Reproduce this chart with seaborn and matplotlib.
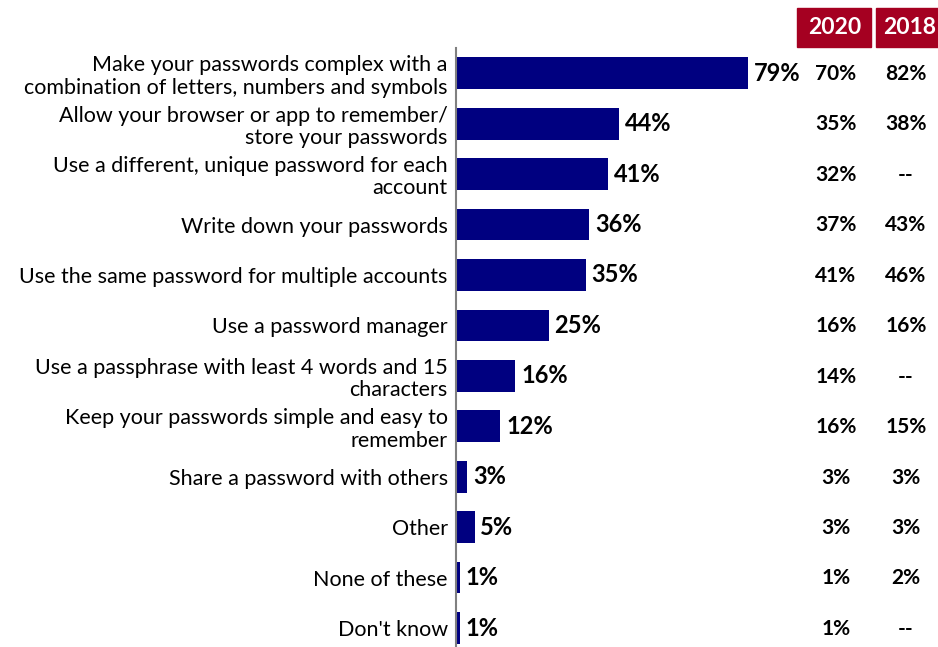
import matplotlib
matplotlib.use("Agg")
import matplotlib.pyplot as plt
import seaborn as sns
import pandas as pd
from matplotlib.patches import Rectangle

categories = [
    "Make your passwords complex with a\ncombination of letters, numbers and symbols",
    "Allow your browser or app to remember/\nstore your passwords",
    "Use a different, unique password for each\naccount",
    "Write down your passwords",
    "Use the same password for multiple accounts",
    "Use a password manager",
    "Use a passphrase with least 4 words and 15\ncharacters",
    "Keep your passwords simple and easy to\nremember",
    "Share a password with others",
    "Other",
    "None of these",
    "Don't know",
]
values_current = [79, 44, 41, 36, 35, 25, 16, 12, 3, 5, 1, 1]
values_2020 = ["70%", "35%", "32%", "37%", "41%", "16%", "14%", "16%", "3%", "3%", "1%", "1%"]
values_2018 = ["82%", "38%", "--", "43%", "46%", "16%", "--", "15%", "3%", "3%", "2%", "--"]
column_years = ["2020", "2018"]

df = pd.DataFrame({"item": categories, "pct": values_current})

W, H = 938, 647
fig = plt.figure(figsize=(W / 100, H / 100), dpi=100)
plt.rcParams["font.family"] = ["Lato", "DejaVu Sans"]

ax_left, ax_top = 456, 48
ax = fig.add_axes([ax_left / W, 0, (W - ax_left) / W, 1 - ax_top / H])

bar_color = "#000080"
sns.barplot(data=df, x="pct", y="item", orient="h", color=bar_color,
            width=0.63, ax=ax, saturation=1)

px_per_pct = 3.70
ax.set_xlim(0, (W - ax_left) / px_per_pct)
row_step = 50.45
ax.set_ylim(11 + (H - 628) / row_step, -0.5)

for s in ["top", "right", "bottom"]:
    ax.spines[s].set_visible(False)
ax.spines["left"].set_color("#808080")
ax.spines["left"].set_linewidth(1.5)
ax.set_xticks([])
ax.set_xlabel("")
ax.set_ylabel("")
ax.tick_params(axis="y", length=0, pad=6)
for lbl in ax.get_yticklabels():
    lbl.set_fontsize(15.5)
    lbl.set_linespacing(1.15)
    lbl.set_color("black")

for i, v in enumerate(values_current):
    ax.text(v + 1.6, i, f"{v}%", va="center", ha="left",
            fontsize=17, fontweight="bold", color="black")

# comparison columns on the right
col_x = [836 / W, 906 / W]
for i in range(len(categories)):
    ycen = 1 - (74 + i * row_step) / H
    fig.text(col_x[0], ycen, values_2020[i], ha="center", va="center",
             fontsize=15, fontweight="bold")
    fig.text(col_x[1], ycen, values_2018[i], ha="center", va="center",
             fontsize=15, fontweight="bold")

# year header boxes
header_color = "#A50021"
boxes = [(797, 871), (876, 941)]
for (x0, x1), year in zip(boxes, column_years):
    fig.patches.append(Rectangle((x0 / W, 1 - 47 / H), (x1 - x0) / W, 39 / H,
                                 transform=fig.transFigure, color=header_color,
                                 zorder=0))
    fig.text((x0 + x1) / 2 / W + 0.001, 1 - 28 / H, year, ha="center", va="center",
             color="white", fontsize=16.5, fontweight="bold")

fig.savefig("out.png", dpi=100)
